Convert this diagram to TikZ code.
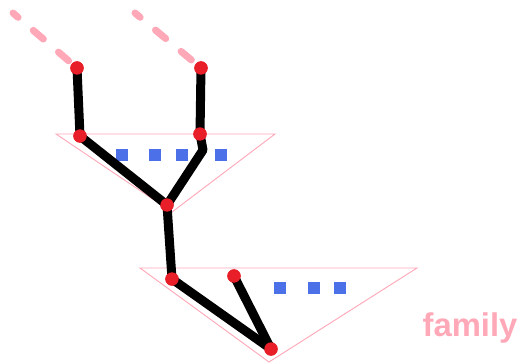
\documentclass[tikz,border=0pt]{standalone}
\usepackage{fontspec}
\setsansfont{Liberation Sans}
\definecolor{famPink}{HTML}{FFA8B8}
\definecolor{dotRed}{HTML}{E81E28}
\definecolor{slotBlue}{HTML}{4B70E8}
\tikzset{
  vertex/.style={circle, fill=dotRed, inner sep=0pt, minimum size=0.4cm},
  edge/.style={line width=0.27cm, black, line join=round},
  slot/.style={fill=slotBlue, inner sep=0pt, minimum size=0.36cm},
  famtri/.style={draw=famPink, line width=0.8pt, line join=miter},
  parent/.style={famPink, line width=0.21cm, line cap=round, dash pattern=on 0.4cm off 0.6cm, dash phase=0.2cm}
}
\begin{document}
\begin{tikzpicture}[x=0.03cm, y=-0.03cm]
    \useasboundingbox (0,0) rectangle (521,363);

    % family triangles
    \draw[famtri] (56,134) -- (275,134) -- (172,212) -- cycle;
    \draw[famtri] (140,268) -- (417,268) -- (269,362) -- cycle;

    % empty slots
    \foreach \sx in {122,155,182,221} \node[slot] (slotA\sx) at (\sx,155) {};
    \foreach \sx in {280,314,340} \node[slot] (slotB\sx) at (\sx,288) {};

    % vertices
    \node[vertex] (topL) at (77,68) {};
    \node[vertex] (topR) at (201,68) {};
    \node[vertex] (inL) at (80,136) {};
    \node[vertex] (inR) at (200,134) {};
    \node[vertex] (mid) at (167,205) {};
    \node[vertex] (lowL) at (172,279) {};
    \node[vertex] (lowR) at (234,276) {};
    \node[vertex] (bot) at (271,349) {};
    \coordinate (bendR) at (203,150);
    \coordinate (upL) at (13,13);
    \coordinate (upR) at (135,13);

    % parent links, faded
    \draw[parent] (upL) -- (topL);
    \draw[parent] (upR) -- (topR);

    % edges
    \draw[edge] (topL.center) -- (inL.center);
    \draw[edge] (topR.center) -- (inR.center);
    \draw[edge] (inL.center) -- (mid.center);
    \draw[edge] (inR.center) -- (bendR) -- (mid.center);
    \draw[edge] (mid.center) -- (lowL.center);
    \draw[edge] (lowL.center) -- (bot.center);
    \draw[edge] (lowR.center) -- (bot.center);

    % redraw dots on top
    \foreach \v in {topL,topR,inL,inR,mid,lowL,lowR,bot}
        \fill[dotRed] (\v) circle (0.2cm);

    \node[font=\sffamily\bfseries\fontsize{28}{30}\selectfont, text=famPink] (famlabel) at (470,328) {family};
\end{tikzpicture}
\end{document}
